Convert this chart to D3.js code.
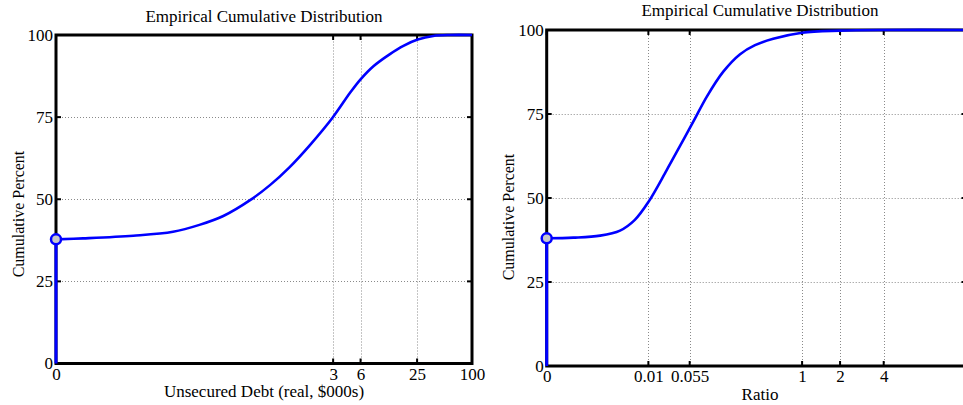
<!DOCTYPE html>
<html>
<head>
<meta charset="utf-8">
<script src="https://cdn.jsdelivr.net/npm/d3@7"></script>
<style>
  html, body { margin: 0; padding: 0; background: #fff; }
  svg { display: block; font-family: "Liberation Serif", "Times New Roman", serif; }
</style>
</head>
<body>
<svg id="chart" width="963" height="405"></svg>
<script>
// ---- Data: empirical CDF of unsecured debt (real, $000s)
const debtValues = [0, 0.0027, 0.0166, 0.05, 0.10, 0.185, 0.37, 0.607, 1.0, 1.67, 2.97, 4.6, 6.0, 8.3, 12.6, 17.7, 25.4, 37.6, 57, 100];
const debtPercent = [37.8, 38.1, 38.9, 40.1, 42.2, 44.9, 49.8, 54.3, 59.8, 66.5, 74.9, 82.4, 86.5, 90.5, 94.2, 96.7, 98.6, 99.7, 100, 100];
const debtTicks = [0, 3, 6, 25, 100];
const debtZeroShare = 37.8;

// ---- Data: empirical CDF of the ratio
const ratioValues = [0, 0.0000123, 0.0004, 0.00195, 0.0049, 0.01, 0.0229, 0.0388, 0.0623, 0.0965, 0.158, 0.249, 0.361, 0.549, 1, 2, 4, 12];
const ratioPercent = [38.0, 38.2, 38.8, 40.3, 43.5, 48.8, 58.3, 65.5, 72.7, 80.1, 87.6, 92.8, 95.5, 97.4, 99.2, 99.8, 100, 100];
const ratioTicks = [0, 0.01, 0.055, 1, 2, 4];
const ratioZeroShare = 38.0;

const percentTicks = [0, 25, 50, 75, 100];
const gridPercent = [25, 50, 75];

const svg = d3.select("#chart");

function drawPanel(cfg) {
  const g = svg.append("g");
  const x = cfg.x, y = cfg.y;
  const [x0, x1] = x.range();
  const [y0, y1] = y.range(); // y0 bottom, y1 top

  // dotted grid
  const grid = g.append("g").attr("stroke", "#8a8a8a").attr("stroke-width", 1)
    .attr("stroke-dasharray", "1,2").attr("fill", "none");
  gridPercent.forEach(p => {
    grid.append("line").attr("x1", x0).attr("x2", x1)
      .attr("y1", Math.round(y(p)) + 0.5).attr("y2", Math.round(y(p)) + 0.5);
  });
  cfg.ticks.filter(t => t !== 0 && x(t) < x1 - 2).forEach(t => {
    grid.append("line").attr("y1", y0).attr("y2", y1)
      .attr("x1", Math.round(x(t)) + 0.5).attr("x2", Math.round(x(t)) + 0.5);
  });

  // inward tick marks on all four sides
  const tk = g.append("g").attr("stroke", "#000").attr("stroke-width", 2);
  const L = 5;
  cfg.ticks.forEach(t => {
    const px = x(t);
    tk.append("line").attr("x1", px).attr("x2", px).attr("y1", y0).attr("y2", y0 - L);
    tk.append("line").attr("x1", px).attr("x2", px).attr("y1", y1).attr("y2", y1 + L);
  });
  percentTicks.forEach(p => {
    const py = y(p);
    tk.append("line").attr("x1", x0).attr("x2", x0 + L).attr("y1", py).attr("y2", py);
    tk.append("line").attr("x1", x1).attr("x2", x1 - L).attr("y1", py).attr("y2", py);
  });

  // frame
  g.append("rect").attr("x", x0).attr("y", y1).attr("width", x1 - x0).attr("height", y0 - y1)
    .attr("fill", "none").attr("stroke", "#000").attr("stroke-width", 3);

  // tick labels
  const xAxis = d3.axisBottom(x).tickValues(cfg.ticks).tickSize(0).tickPadding(0)
    .tickFormat(d => String(d));
  const ax = g.append("g").attr("transform", `translate(0,${y0 + 4})`).call(xAxis);
  ax.select(".domain").remove();
  ax.selectAll("text").attr("font-size", 17).attr("fill", "#000")
    .attr("font-family", "Liberation Serif, serif").attr("dy", "0.71em");

  const yAxis = d3.axisLeft(y).tickValues(percentTicks).tickSize(0).tickPadding(3);
  const ay = g.append("g").attr("transform", `translate(${x0},0)`).call(yAxis);
  ay.select(".domain").remove();
  ay.selectAll("text").attr("font-size", 17).attr("fill", "#000")
    .attr("font-family", "Liberation Serif, serif");

  // step at zero, then the CDF curve
  const line = d3.line().x(d => x(d[0])).y(d => y(d[1])).curve(d3.curveCatmullRom.alpha(0.5));
  const pts = cfg.values.map((v, i) => [v, cfg.percent[i]]);
  g.append("line").attr("x1", x(0)).attr("x2", x(0)).attr("y1", y(0)).attr("y2", y(cfg.zero))
    .attr("stroke", "#0000ff").attr("stroke-width", 3);
  g.append("path").datum(pts).attr("d", line).attr("fill", "none")
    .attr("stroke", "#0000ff").attr("stroke-width", 2.6).attr("stroke-linejoin", "round");
  g.append("circle").attr("cx", x(0)).attr("cy", y(cfg.zero)).attr("r", 5)
    .attr("fill", "#c8c8c8").attr("stroke", "#0000ff").attr("stroke-width", 2.5);

  // titles
  const cx = cfg.titleX;
  g.append("text").attr("x", cx).attr("y", cfg.titleY).attr("text-anchor", "middle")
    .attr("font-size", 17).text("Empirical Cumulative Distribution");
  g.append("text").attr("x", cx).attr("y", cfg.xLabelY).attr("text-anchor", "middle")
    .attr("font-size", 17).text(cfg.xLabel);
  g.append("text").attr("transform", `translate(${cfg.yLabelX},${cfg.yLabelY}) rotate(-90)`)
    .attr("text-anchor", "middle").attr("font-size", 16).text("Cumulative Percent");
}

// Left panel: symmetric-log scale for debt
drawPanel({
  x: d3.scaleSymlog().constant(0.00275).domain([0, 100]).range([56, 472]),
  y: d3.scaleLinear().domain([0, 100]).range([363.5, 35]),
  ticks: debtTicks, values: debtValues, percent: debtPercent, zero: debtZeroShare,
  xLabel: "Unsecured Debt (real, $000s)",
  titleX: 264, titleY: 22, xLabelY: 397, yLabelX: 24, yLabelY: 214
});

// Right panel: fifth-root scale for the ratio
drawPanel({
  x: d3.scalePow().exponent(0.2).domain([0, 12]).range([546.7, 966.5]),
  y: d3.scaleLinear().domain([0, 100]).range([366, 30]),
  ticks: ratioTicks, values: ratioValues, percent: ratioPercent, zero: ratioZeroShare,
  xLabel: "Ratio",
  titleX: 760, titleY: 16, xLabelY: 400, yLabelX: 514, yLabelY: 217
});
</script>
</body>
</html>
